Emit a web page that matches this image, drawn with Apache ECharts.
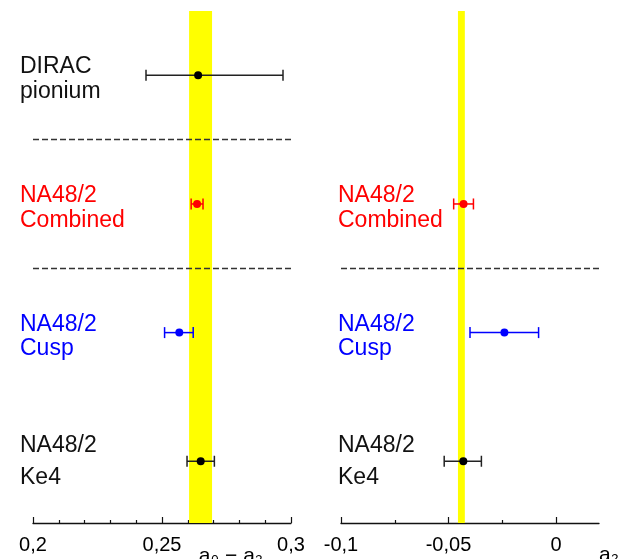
<!DOCTYPE html>
<html>
<head>
<meta charset="utf-8">
<script src="https://cdn.jsdelivr.net/npm/echarts@6/dist/echarts.min.js"></script>
<style>
    html, body { margin: 0; padding: 0; background: #fff; }
    #main { width: 619px; height: 559px; }
</style>
</head>
<body>
<div id="main"></div>
<script>
// rows, top to bottom (y slot of each measurement)
const rows = [4, 3, 2, 1];
const titles = ['DIRAC', 'NA48/2', 'NA48/2', 'NA48/2'];
const subtitles = ['pionium', 'Combined', 'Cusp', 'Ke4'];
const rowColors = ['#000000', '#ff0000', '#0000ff', '#000000'];

// left panel: a0 - a2
const diffValue = [0.2640, 0.2636, 0.2567, 0.2650];
const diffLow = [0.2438, 0.2613, 0.2510, 0.2597];
const diffHigh = [0.2969, 0.2659, 0.2621, 0.2703];
const diffBand = [0.2605, 0.2694];
const diffSeparators = [3.5, 2.5];
const diffTicks = [0.2, 0.25, 0.3];

// right panel: a2 (no DIRAC point)
const a2Value = [null, -0.0430, -0.0240, -0.0431];
const a2Low = [null, -0.0476, -0.0400, -0.0520];
const a2High = [null, -0.0384, -0.0081, -0.0347];
const a2Band = [-0.0456, -0.0424];
const a2Separators = [2.5];
const a2Ticks = [-0.1, -0.05, 0];
const a2MinorTicks = [-0.075, -0.025];

const yMin = 0.52, yMax = 4.5;
const FONT = '"Liberation Sans", Arial, Helvetica, sans-serif';

const myChart = echarts.init(document.getElementById('main'));

function commaFmt(v) {
    return String(+v.toFixed(4)).replace('.', ',');
}

function bandItem(params, api) {
    const a = api.coord([api.value(0), yMax]);
    const b = api.coord([api.value(1), yMin]);
    return {
        type: 'rect',
        shape: { x: a[0], y: a[1], width: b[0] - a[0], height: b[1] - a[1] },
        style: { fill: '#ffff00' }
    };
}

function errItem(params, api) {
    const y = api.value(2);
    const a = api.coord([api.value(0), y]);
    const b = api.coord([api.value(1), y]);
    let c = rowColors[api.value(3)];
    if (c === '#000000') c = '#222222';
    const st = { stroke: c, lineWidth: 1.5 };
    const h = 5.5;
    return {
        type: 'group',
        children: [
            { type: 'line', shape: { x1: a[0], y1: a[1], x2: b[0], y2: b[1] }, style: st },
            { type: 'line', shape: { x1: a[0], y1: a[1] - h, x2: a[0], y2: a[1] + h }, style: st },
            { type: 'line', shape: { x1: b[0], y1: b[1] - h, x2: b[0], y2: b[1] + h }, style: st }
        ]
    };
}

function labelItem(dx) {
    return function (params, api) {
        const i = api.value(2);
        const p = api.coord([api.value(0), api.value(1)]);
        // last row has its text set a little higher and wider apart
        const last = i === rows.length - 1;
        const base1 = p[1] + (last ? -7 : 0);
        const base2 = base1 + (last ? 32 : 24.5);
        const mk = (txt, base) => ({
            type: 'text',
            x: p[0] + dx,
            y: base - 8.2,
            style: {
                text: txt, fill: rowColors[i] === '#000000' ? '#111' : rowColors[i],
                fontSize: 23, fontFamily: FONT,
                align: 'left', verticalAlign: 'middle'
            }
        });
        return { type: 'group', children: [mk(titles[i], base1), mk(subtitles[i], base2)] };
    };
}

function panelSeries(idx, xAxisIndex, vals, lows, highs, band, seps, xMin, dx) {
    const pts = [], errs = [], labs = [];
    rows.forEach((r, i) => {
        if (vals[i] == null) return;
        pts.push([vals[i], r, i]);
        errs.push([lows[i], highs[i], r, i]);
        labs.push([xMin, r, i]);
    });
    return [
        {
            type: 'custom', xAxisIndex: xAxisIndex, yAxisIndex: idx, z: 1, silent: true,
            renderItem: bandItem, data: [band], clip: false
        },
        {
            type: 'custom', xAxisIndex: xAxisIndex, yAxisIndex: idx, z: 3, silent: true,
            renderItem: errItem, data: errs,
            markLine: {
                silent: true, symbol: 'none', label: { show: false },
                lineStyle: { color: '#333', width: 1.3, type: [6, 3] },
                data: seps.map(s => ({ yAxis: s }))
            }
        },
        {
            type: 'scatter', xAxisIndex: xAxisIndex, yAxisIndex: idx, z: 4, silent: true,
            symbolSize: 8, data: pts,
            itemStyle: { color: p => rowColors[p.data[2]], opacity: 1 }
        },
        {
            type: 'custom', xAxisIndex: xAxisIndex, yAxisIndex: idx, z: 5, silent: true,
            renderItem: labelItem(dx), data: labs, clip: false
        }
    ];
}

const axisCommon = {
    axisLine: { lineStyle: { color: '#111', width: 1.3 } },
    axisTick: { inside: true, length: 6, lineStyle: { color: '#111', width: 1.2 } },
    splitLine: { show: false },
    axisLabel: { color: '#000', fontSize: 20, fontFamily: FONT, margin: 12, formatter: commaFmt },
    nameTextStyle: { color: '#000', fontSize: 21, fontFamily: FONT, verticalAlign: 'top' }
};

const option = {
    animation: false,
    grid: [
        { left: 33, width: 258, top: 11, bottom: 36, outerBoundsMode: 'none', containLabel: false },
        { left: 341, width: 258, top: 11, bottom: 36, outerBoundsMode: 'none', containLabel: false }
    ],
    xAxis: [
        Object.assign({}, axisCommon, {
            type: 'value', gridIndex: 0, min: 0.2, max: 0.3, interval: 0.05,
            minorTick: { show: true, splitNumber: 5, length: 3, lineStyle: { color: '#111', width: 1.2 } },
            name: 'a₀ − a₂', nameLocation: 'end', nameGap: -28,
            nameTextStyle: Object.assign({}, axisCommon.nameTextStyle, { align: 'right', padding: [23, 0, 0, 0] })
        }),
        Object.assign({}, axisCommon, {
            type: 'value', gridIndex: 1, min: -0.1, max: 0.02,
            axisTick: Object.assign({}, axisCommon.axisTick, { customValues: a2Ticks }),
            axisLabel: Object.assign({}, axisCommon.axisLabel, { customValues: a2Ticks }),
            name: 'a₂', nameLocation: 'end', nameGap: 0,
            nameTextStyle: Object.assign({}, axisCommon.nameTextStyle, { align: 'left', padding: [22, 0, 0, 0] })
        }),
        {
            type: 'value', gridIndex: 1, min: -0.1, max: 0.02, position: 'bottom',
            axisLine: { show: false }, splitLine: { show: false }, axisLabel: { show: false },
            axisTick: { inside: true, length: 3, customValues: a2MinorTicks, lineStyle: { color: '#111', width: 1.2 } }
        }
    ],
    yAxis: [
        { type: 'value', gridIndex: 0, min: yMin, max: yMax, show: false },
        { type: 'value', gridIndex: 1, min: yMin, max: yMax, show: false }
    ],
    series: [].concat(
        panelSeries(0, 0, diffValue, diffLow, diffHigh, diffBand, diffSeparators, 0.2, -13),
        panelSeries(1, 1, a2Value, a2Low, a2High, a2Band, a2Separators, -0.1, -3)
    )
};

myChart.setOption(option);
</script>
</body>
</html>
